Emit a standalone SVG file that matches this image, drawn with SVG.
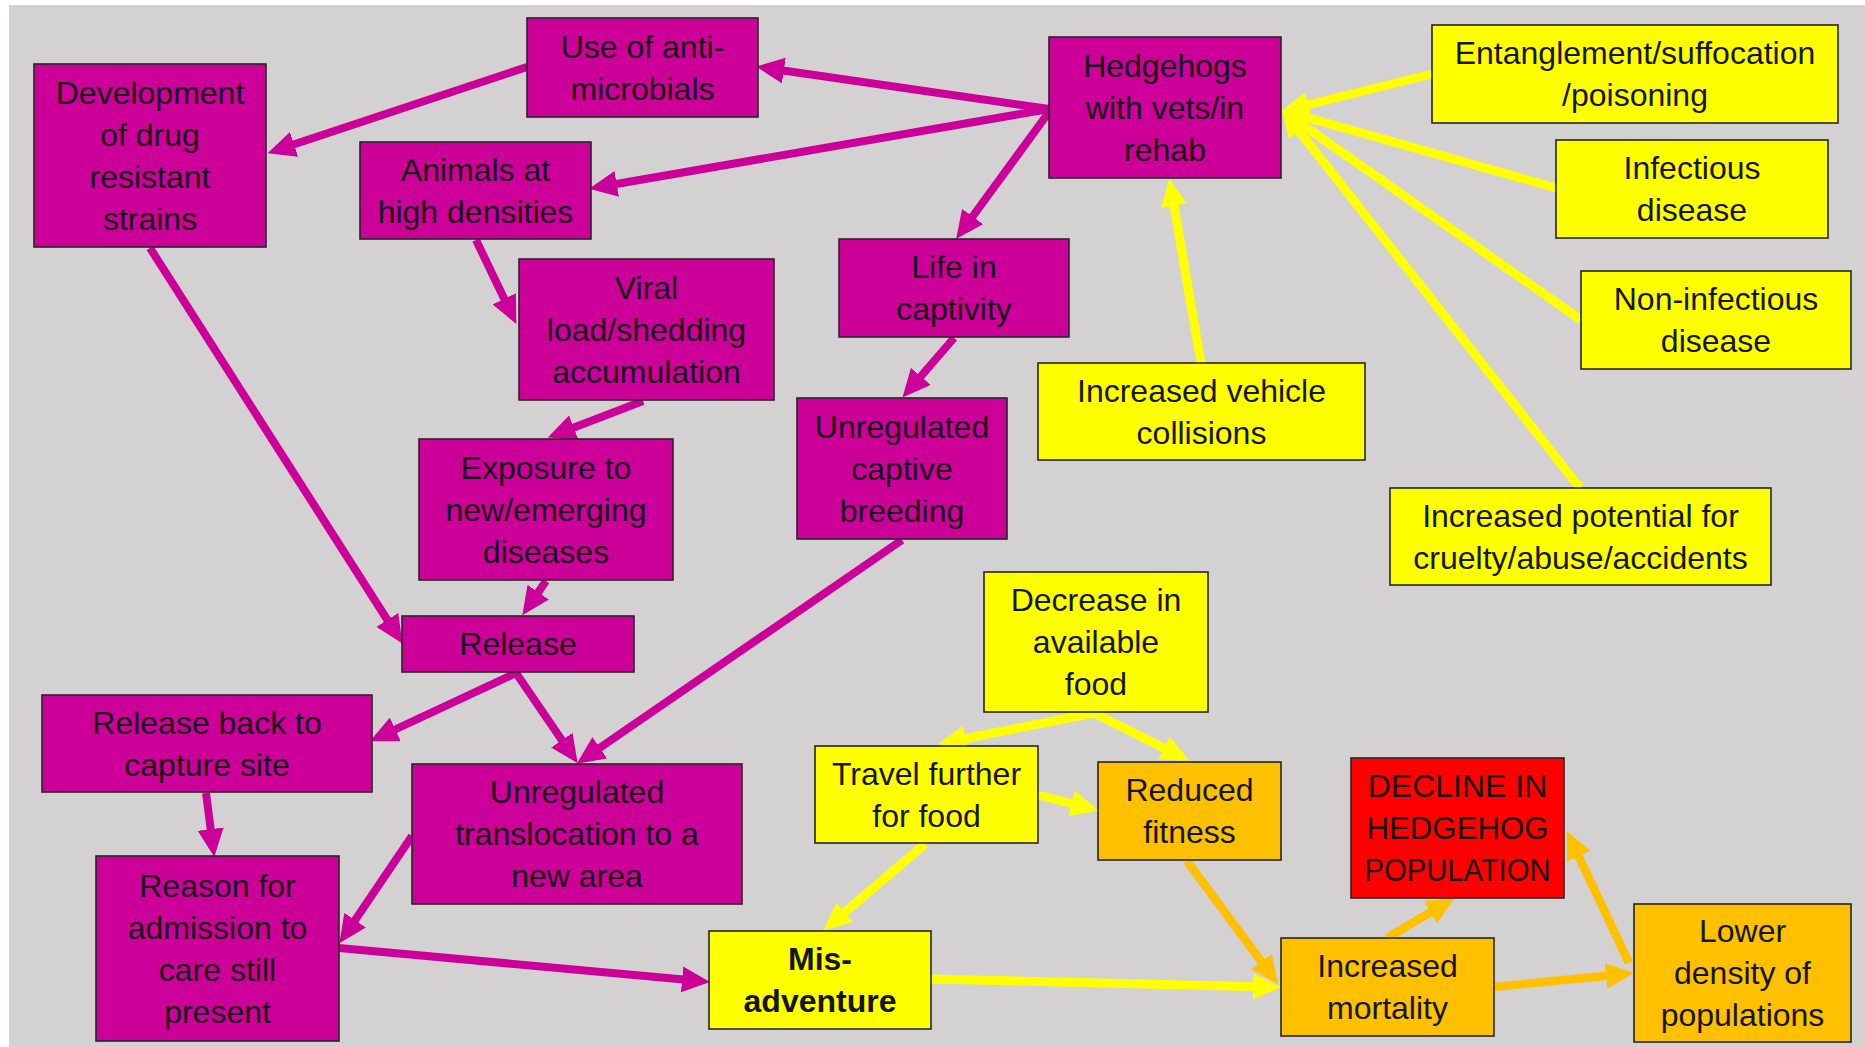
<svg xmlns="http://www.w3.org/2000/svg" width="1865" height="1047" viewBox="0 0 1865 1047">
<style>
.box{stroke:#262626;stroke-width:1.6}
.m{fill:#CC0099}
.y{fill:#FFFF00}
.o{fill:#FFC000}
.r{fill:#FF0000}
text{font-family:"Liberation Sans",Arial,sans-serif;font-size:32px;fill:#151515;text-anchor:middle}
.b{font-weight:bold}
.cm{stroke:#CC0099;stroke-width:8;fill:none;marker-end:url(#am)}
.cy{stroke:#FFFF00;stroke-width:9;fill:none;marker-end:url(#ay)}
.co{stroke:#FFC000;stroke-width:8.5;fill:none;marker-end:url(#ao)}
</style>
<defs>
<marker id="am" markerUnits="userSpaceOnUse" viewBox="0 0 28 26" markerWidth="28" markerHeight="26" refX="18" refY="13" orient="auto"><path d="M0,0 L28,13 L0,26 z" fill="#CC0099"/></marker>
<marker id="ay" markerUnits="userSpaceOnUse" viewBox="0 0 28 26" markerWidth="28" markerHeight="26" refX="18" refY="13" orient="auto"><path d="M0,0 L28,13 L0,26 z" fill="#FFFF00"/></marker>
<marker id="ao" markerUnits="userSpaceOnUse" viewBox="0 0 28 26" markerWidth="28" markerHeight="26" refX="18" refY="13" orient="auto"><path d="M0,0 L28,13 L0,26 z" fill="#FFC000"/></marker>
</defs>
<rect x="0" y="0" width="1865" height="1047" fill="#ffffff"/>
<rect x="9" y="5" width="1856" height="1042" fill="#d3d1d2"/>
<g id="connectors">
<line class="cm" x1="1049" y1="109" x2="766" y2="68"/>
<line class="cm" x1="1049" y1="109" x2="599" y2="187"/>
<line class="cm" x1="1049" y1="112" x2="962" y2="231"/>
<line class="cm" x1="527" y1="67" x2="277" y2="150"/>
<line class="cm" x1="476" y1="240" x2="512" y2="315"/>
<line class="cm" x1="643" y1="401" x2="557" y2="434"/>
<line class="cm" x1="546" y1="581" x2="528" y2="607"/>
<line class="cm" x1="150" y1="248" x2="397" y2="635"/>
<line class="cm" x1="954" y1="338" x2="909" y2="390"/>
<line class="cm" x1="902" y1="540" x2="585" y2="758"/>
<line class="cm" x1="516" y1="673" x2="379" y2="737"/>
<line class="cm" x1="516" y1="673" x2="572" y2="755"/>
<line class="cm" x1="206" y1="793" x2="213" y2="847"/>
<line class="cm" x1="412" y1="836" x2="345" y2="935"/>
<line class="cm" x1="339" y1="948" x2="700" y2="981"/>
<line class="cy" x1="1432" y1="74" x2="1291" y2="109"/>
<line class="cy" x1="1556" y1="188" x2="1291" y2="113"/>
<line class="cy" x1="1581" y1="320" x2="1290" y2="116"/>
<line class="cy" x1="1580" y1="488" x2="1288" y2="117"/>
<line class="cy" x1="1201" y1="363" x2="1171" y2="188"/>
<line class="cy" x1="1094" y1="713" x2="948" y2="742"/>
<line class="cy" x1="1094" y1="713" x2="1180" y2="756"/>
<line class="cy" x1="1038" y1="795" x2="1089" y2="808"/>
<line class="cy" x1="925" y1="844" x2="831" y2="924"/>
<line class="cy" x1="931" y1="979" x2="1271" y2="987"/>
<line class="co" x1="1187" y1="861" x2="1272" y2="976"/>
<line class="co" x1="1387" y1="938" x2="1446" y2="903"/>
<line class="co" x1="1494" y1="987" x2="1624" y2="974"/>
<line class="co" x1="1629" y1="963" x2="1571" y2="840"/>
</g>
<g id="n1"><rect class="box m" x="527" y="18" width="231" height="99"/><text x="642.5" y="57.5">Use of anti-</text><text x="642.5" y="99.5">microbials</text></g>
<g id="n2"><rect class="box m" x="34" y="64" width="232" height="183"/><text x="150" y="103.5">Development</text><text x="150" y="145.5">of drug</text><text x="150" y="187.5">resistant</text><text x="150" y="229.5">strains</text></g>
<g id="n3"><rect class="box m" x="360" y="142" width="231" height="97"/><text x="475.5" y="180.5">Animals at</text><text x="475.5" y="222.5">high densities</text></g>
<g id="n4"><rect class="box m" x="1049" y="37" width="232" height="141"/><text x="1165" y="76.5">Hedgehogs</text><text x="1165" y="118.5">with vets/in</text><text x="1165" y="160.5">rehab</text></g>
<g id="n5"><rect class="box y" x="1432" y="25" width="406" height="98"/><text x="1635" y="64">Entanglement/suffocation</text><text x="1635" y="106">/poisoning</text></g>
<g id="n6"><rect class="box y" x="1556" y="140" width="272" height="98"/><text x="1692" y="179">Infectious</text><text x="1692" y="221">disease</text></g>
<g id="n7"><rect class="box y" x="1581" y="271" width="270" height="98"/><text x="1716" y="310">Non-infectious</text><text x="1716" y="352">disease</text></g>
<g id="n8"><rect class="box m" x="519" y="259" width="255" height="141"/><text x="646.5" y="298.5">Viral</text><text x="646.5" y="340.5">load/shedding</text><text x="646.5" y="382.5">accumulation</text></g>
<g id="n9"><rect class="box m" x="839" y="239" width="230" height="98"/><text x="954" y="278">Life in</text><text x="954" y="320">captivity</text></g>
<g id="n10"><rect class="box y" x="1038" y="363" width="327" height="97"/><text x="1201.5" y="401.5">Increased vehicle</text><text x="1201.5" y="443.5">collisions</text></g>
<g id="n11"><rect class="box m" x="797" y="398" width="210" height="141"/><text x="902" y="437.5">Unregulated</text><text x="902" y="479.5">captive</text><text x="902" y="521.5">breeding</text></g>
<g id="n12"><rect class="box m" x="419" y="439" width="254" height="141"/><text x="546" y="478.5">Exposure to</text><text x="546" y="520.5">new/emerging</text><text x="546" y="562.5">diseases</text></g>
<g id="n13"><rect class="box y" x="1390" y="488" width="381" height="97"/><text x="1580.5" y="526.5">Increased potential for</text><text x="1580.5" y="568.5">cruelty/abuse/accidents</text></g>
<g id="n14"><rect class="box y" x="984" y="572" width="224" height="140"/><text x="1096" y="611">Decrease in</text><text x="1096" y="653">available</text><text x="1096" y="695">food</text></g>
<g id="n15"><rect class="box m" x="402" y="616" width="232" height="56"/><text x="518" y="655">Release</text></g>
<g id="n16"><rect class="box m" x="42" y="695" width="330" height="97"/><text x="207" y="733.5">Release back to</text><text x="207" y="775.5">capture site</text></g>
<g id="n17"><rect class="box m" x="412" y="764" width="330" height="140"/><text x="577" y="803">Unregulated</text><text x="577" y="845">translocation to a</text><text x="577" y="887">new area</text></g>
<g id="n18"><rect class="box y" x="815" y="746" width="223" height="97"/><text x="926.5" y="784.5">Travel further</text><text x="926.5" y="826.5">for food</text></g>
<g id="n19"><rect class="box o" x="1098" y="762" width="183" height="98"/><text x="1189.5" y="801">Reduced</text><text x="1189.5" y="843">fitness</text></g>
<g id="n20"><rect class="box r" x="1351" y="758" width="213" height="140"/><text x="1457.5" y="797">DECLINE IN</text><text x="1457.5" y="839" textLength="182" lengthAdjust="spacingAndGlyphs">HEDGEHOG</text><text x="1457.5" y="881" textLength="186" lengthAdjust="spacingAndGlyphs">POPULATION</text></g>
<g id="n21"><rect class="box m" x="96" y="856" width="243" height="185"/><text x="217.5" y="896.5">Reason for</text><text x="217.5" y="938.5">admission to</text><text x="217.5" y="980.5">care still</text><text x="217.5" y="1022.5">present</text></g>
<g id="n22"><rect class="box y" x="709" y="931" width="222" height="98"/><text class="b" x="820" y="970">Mis-</text><text class="b" x="820" y="1012">adventure</text></g>
<g id="n23"><rect class="box o" x="1281" y="938" width="213" height="98"/><text x="1387.5" y="977">Increased</text><text x="1387.5" y="1019">mortality</text></g>
<g id="n24"><rect class="box o" x="1634" y="904" width="217" height="138"/><text x="1742.5" y="942">Lower</text><text x="1742.5" y="984">density of</text><text x="1742.5" y="1026">populations</text></g>
</svg>
